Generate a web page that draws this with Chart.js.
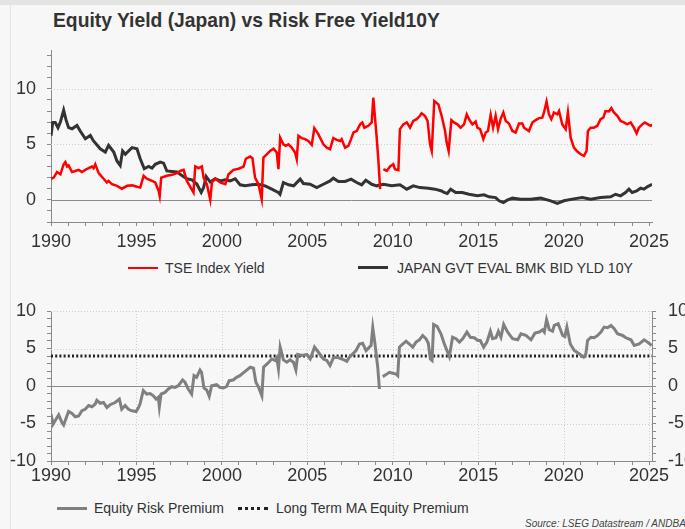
<!DOCTYPE html>
<html>
<head>
<meta charset="utf-8">
<script src="https://cdn.jsdelivr.net/npm/chart.js@4"></script>
<style>
  body { margin: 0; width: 685px; height: 529px; overflow: hidden; background: #f7f7f7; position: relative;
         font-family: "Liberation Sans", Arial, sans-serif; color: #333; }
  .strip { position: absolute; left: 0; top: 0; width: 685px; height: 5px; background: #e4e4e2; }
  .edge { position: absolute; left: 10px; top: 5px; width: 1px; height: 524px; background: #e3e3e3; }
  .title { position: absolute; left: 53px; top: 11px; font-size: 19.3px; line-height: 19px; font-weight: bold; color: #333; }
  canvas { position: absolute; left: 0; }
  .leg { position: absolute; font-size: 14px; line-height: 14px; color: #333; white-space: nowrap; }
  .swatch { position: absolute; width: 30px; height: 0; }
  .source { position: absolute; left: 525px; top: 518px; font-size: 10px; font-style: italic; color: #444; white-space: nowrap; }
</style>
</head>
<body>
<div class="strip"></div>
<div class="edge"></div>
<div class="title">Equity Yield (Japan) vs Risk Free Yield10Y</div>
<canvas id="top-chart" width="685" height="260" style="top:0"></canvas>
<canvas id="bottom-chart" width="685" height="211" style="top:280px"></canvas>

<div class="swatch" style="left:128px; top:267px; border-top:2.5px solid #ff0000"></div>
<div class="leg" style="left:165px; top:261px">TSE Index Yield</div>
<div class="swatch" style="left:358px; top:266px; border-top:3px solid #333"></div>
<div class="leg" style="left:397px; top:261px">JAPAN GVT EVAL BMK BID YLD 10Y</div>

<div class="swatch" style="left:57px; top:507px; border-top:3px solid #808080"></div>
<div class="leg" style="left:94px; top:501px">Equity Risk Premium</div>
<div class="swatch" style="left:238px; top:507px; border-top:3px dotted #222"></div>
<div class="leg" style="left:276px; top:501px">Long Term MA Equity Premium</div>

<div class="source">Source: LSEG Datastream / ANDBANK</div>

<script>
// TSE index dividend yield (red), null = gap in the series
const tseYears = [1990.00,1990.16,1990.35,1990.55,1990.74,1990.84,1990.94,1991.03,1991.23,1991.42,1991.62,1991.81,
  1992.01,1992.20,1992.40,1992.49,1992.59,1992.79,1993.08,1993.27,1993.37,1993.57,1993.86,1994.15,1994.45,1994.74,
  1995.03,1995.22,1995.42,1995.61,1995.91,1996.10,1996.30,1996.36,1996.45,1996.78,1997.08,1997.37,1997.56,1997.76,
  1997.95,1998.15,1998.34,1998.44,1998.64,1998.83,1998.93,1999.12,1999.32,1999.42,1999.61,1999.90,2000.20,2000.39,
  2000.68,2000.98,2001.27,2001.40,2001.65,2001.79,2001.94,2002.14,2002.33,2002.43,2002.63,2002.82,2003.02,2003.21,
  2003.31,2003.41,2003.60,2003.74,2003.89,2004.09,2004.28,2004.38,2004.48,2004.67,2004.87,2005.06,2005.26,2005.41,
  2005.65,2005.94,2006.14,2006.33,2006.52,2006.72,2006.92,2007.01,2007.21,2007.40,2007.56,2007.70,2007.89,2008.09,
  2008.22,2008.34,2008.57,2008.77,2008.86,2009.06,2009.16,2009.26,2009.36,2009.45,2009.65,2009.84,2010.03,2010.13,
  2010.33,2010.42,2010.62,2010.82,2011.01,2011.20,2011.40,2011.59,2011.69,2011.88,2012.04,2012.18,2012.28,2012.43,
  2012.67,2012.86,2013.06,2013.15,2013.27,2013.43,2013.58,2013.78,2013.97,2014.17,2014.33,2014.46,2014.66,2014.85,
  2014.95,2015.11,2015.30,2015.44,2015.57,2015.73,2015.87,2016.02,2016.16,2016.31,2016.47,2016.61,2016.80,2017.00,
  2017.19,2017.39,2017.58,2017.68,2017.97,2018.17,2018.36,2018.56,2018.75,2018.85,2019.00,2019.14,2019.28,2019.43,
  2019.63,2019.73,2019.92,2020.12,2020.25,2020.41,2020.60,2020.80,2021.00,2021.19,2021.34,2021.42,2021.58,2021.77,
  2021.97,2022.16,2022.32,2022.45,2022.65,2022.79,2022.94,2023.14,2023.33,2023.53,2023.72,2023.92,2024.11,2024.27,
  2024.40,2024.60,2024.75,2024.93,2025.09,2025.18];
const tseYield = [1.9,2.0,2.5,2.3,3.2,3.4,3.0,3.1,2.5,2.6,2.7,2.5,
  2.7,2.85,3.0,2.85,3.2,2.4,1.9,1.56,1.7,1.4,1.26,1.0,1.26,1.3,
  1.17,1.1,2.16,1.9,1.7,1.56,0.8,0.36,2.0,2.16,2.25,2.4,2.6,2.7,
  1.7,1.17,0.66,3.0,2.85,3.0,2.0,1.4,0.0,1.56,1.9,1.56,1.4,2.3,
  2.7,2.8,3.0,3.7,3.9,3.75,2.0,1.4,0.06,3.8,4.1,4.4,4.6,4.26,
  2.76,5.6,5.0,4.86,5.0,4.7,4.26,3.66,5.77,5.56,5.47,5.3,4.95,6.46,
  5.9,5.0,4.7,4.56,5.56,5.4,5.3,5.47,4.7,4.86,5.47,6.07,6.2,6.8,
  6.97,6.5,6.67,6.97,9.2,5.6,3.5,0.96,null,2.76,2.6,3.0,3.2,2.76,
  2.67,6.37,6.8,6.97,6.5,7.1,7.27,7.57,7.8,7.57,7.1,5.0,4.4,8.9,
  8.6,7.57,6.2,5.2,4.4,7.18,6.97,6.8,6.5,6.8,7.7,7.27,6.8,7.06,
  6.5,6.37,5.47,6.07,6.2,7.66,6.5,7.57,6.37,7.27,7.87,7.1,6.88,6.2,
  6.07,6.88,6.88,6.5,6.2,6.97,7.18,7.36,7.4,7.87,8.86,7.7,7.27,7.87,
  7.7,8.0,6.8,6.37,7.87,5.6,4.7,4.35,4.1,3.96,4.4,6.2,6.5,6.5,
  6.67,7.27,7.4,8.0,7.96,8.26,7.87,7.57,7.1,6.97,6.8,6.97,6.5,5.98,
  6.5,6.8,6.97,6.8,6.67,6.8];

// 10Y JGB yield (dark grey)
const jgbYears = [1990.00,1990.10,1990.25,1990.41,1990.55,1990.74,1990.88,1991.03,1991.23,1991.52,1991.71,1992.01,
  1992.30,1992.49,1992.88,1993.18,1993.37,1993.67,1993.86,1994.05,1994.19,1994.35,1994.54,1994.74,1995.03,1995.22,
  1995.46,1995.71,1995.91,1996.10,1996.39,1996.59,1996.78,1997.08,1997.37,1997.66,1997.95,1998.25,1998.54,1998.79,
  1998.93,1999.08,1999.32,1999.61,1999.90,2000.20,2000.49,2000.78,2001.07,2001.36,2001.75,2002.14,2002.53,2002.92,
  2003.30,2003.40,2003.60,2003.90,2004.20,2004.58,2004.77,2005.16,2005.55,2005.94,2006.33,2006.52,2006.82,2007.21,
  2007.56,2007.89,2008.18,2008.42,2008.77,2009.06,2009.45,2009.94,2010.42,2010.82,2011.20,2011.59,2012.08,2012.47,
  2012.86,2013.00,2013.19,2013.39,2013.68,2014.07,2014.46,2014.95,2015.34,2015.63,2016.02,2016.22,2016.47,2016.70,
  2017.00,2017.48,2018.07,2018.65,2019.24,2019.63,2020.02,2020.50,2021.09,2021.58,2022.16,2022.75,2023.04,2023.33,
  2023.62,2023.82,2024.01,2024.27,2024.50,2024.70,2024.89,2025.18];
const jgbYield = [5.77,6.97,6.97,6.5,7.0,8.08,7.2,6.5,6.4,6.7,6.2,5.5,
  5.8,5.3,4.6,4.3,4.9,4.3,3.5,3.1,4.4,4.1,4.4,4.7,4.6,3.7,
  2.8,3.0,2.85,3.2,3.4,3.3,2.6,2.55,2.5,2.2,1.9,1.8,1.4,0.66,
  1.1,2.1,1.6,1.9,1.7,1.8,1.7,1.9,1.35,1.26,1.35,1.4,1.26,0.96,
  0.66,0.5,1.56,1.35,1.26,1.86,1.47,1.4,1.1,1.4,1.7,1.95,1.65,1.65,
  1.86,1.56,1.35,1.77,1.4,1.26,1.4,1.26,1.35,0.96,1.26,1.1,1.05,0.96,
  0.8,0.66,0.57,0.96,0.66,0.66,0.5,0.36,0.45,0.27,0.2,-0.09,-0.24,-0.03,
  0.15,0.06,0.06,0.15,-0.09,-0.33,-0.09,0.06,0.2,0.06,0.2,0.27,0.5,0.36,
  0.66,0.96,0.66,0.8,1.05,0.96,1.17,1.4];

// Equity risk premium (grey), null = gap
const erpYears = [1990.00,1990.12,1990.25,1990.45,1990.64,1990.74,1990.93,1991.03,1991.23,1991.42,1991.62,1991.81,
  1992.00,1992.20,1992.40,1992.59,1992.68,1992.88,1993.07,1993.27,1993.46,1993.75,1994.00,1994.14,1994.34,1994.53,
  1994.73,1994.98,1995.12,1995.21,1995.40,1995.60,1995.80,1995.99,1996.15,1996.28,1996.34,1996.44,1996.67,1996.87,
  1997.06,1997.26,1997.45,1997.70,1997.84,1998.03,1998.23,1998.37,1998.52,1998.72,1998.81,1998.95,1999.11,1999.26,
  1999.40,1999.69,1999.88,2000.08,2000.27,2000.43,2000.66,2000.86,2001.05,2001.36,2001.66,2001.85,2001.99,2002.15,
  2002.34,2002.44,2002.69,2002.92,2003.12,2003.21,2003.31,2003.41,2003.60,2003.80,2003.99,2004.19,2004.33,2004.44,
  2004.68,2004.97,2005.17,2005.42,2005.65,2005.94,2006.14,2006.33,2006.52,2006.72,2007.02,2007.31,2007.46,2007.66,
  2007.85,2008.05,2008.24,2008.44,2008.63,2008.73,2008.83,2008.96,2009.12,2009.22,2009.30,2009.41,2009.61,2009.80,
  2010.00,2010.19,2010.29,2010.39,2010.58,2010.78,2010.97,2011.17,2011.36,2011.56,2011.75,2011.95,2012.08,2012.20,
  2012.30,2012.39,2012.59,2012.82,2013.02,2013.31,2013.50,2013.70,2013.90,2014.09,2014.34,2014.54,2014.77,2014.97,
  2015.12,2015.32,2015.51,2015.71,2015.84,2016.04,2016.18,2016.33,2016.49,2016.72,2017.01,2017.31,2017.50,2017.79,
  2018.09,2018.32,2018.57,2018.77,2018.87,2019.00,2019.16,2019.35,2019.45,2019.68,2019.94,2020.07,2020.19,2020.39,
  2020.62,2020.91,2021.17,2021.30,2021.40,2021.60,2021.79,2021.99,2022.18,2022.37,2022.57,2022.77,2022.96,2023.15,
  2023.45,2023.64,2023.94,2024.13,2024.42,2024.71,2024.91,2025.07,2025.15];
const erpValues = [-3.75,-5.1,-4.6,-3.84,-4.87,-5.2,-4.0,-3.4,-3.66,-4.1,-4.0,-3.3,
  -3.1,-2.6,-2.77,-2.4,-1.9,-2.3,-2.2,-2.86,-2.5,-2.2,-1.74,-3.1,-2.6,-3.1,
  -3.3,-3.4,-2.86,-2.4,-0.6,-1.07,-1.0,-1.3,-1.74,-1.5,-2.77,-1.07,-0.85,-0.4,
  -0.09,-0.18,0.04,0.8,0.5,-0.4,-1.07,1.38,1.16,2.14,1.83,-0.27,-0.54,-1.38,
  0.04,0.18,-0.18,-0.27,-0.09,0.71,0.8,1.16,1.38,1.96,2.5,2.37,0.5,-0.18,
  -1.3,2.5,3.04,3.6,3.4,3.75,2.28,5.18,3.48,3.17,3.48,3.17,2.14,4.2,
  4.06,4.2,3.6,5.18,4.5,3.6,3.4,2.72,3.75,3.84,3.6,3.3,3.84,4.29,
  4.73,5.6,5.7,4.73,5.18,5.4,7.77,5.6,2.5,-0.4,null,1.25,1.52,1.83,
  1.7,1.6,1.38,5.18,5.6,5.98,5.6,5.18,5.85,6.16,6.74,6.29,5.7,3.6,
  3.39,8.2,7.95,6.96,5.6,3.93,6.5,6.3,5.85,6.3,7.19,6.5,6.43,6.07,
  6.07,5.18,5.85,7.3,6.3,6.43,7.3,6.5,8.2,7.19,6.3,6.16,6.96,6.74,
  6.16,7.05,7.19,7.5,7.19,8.84,7.5,7.3,8.08,8.3,6.74,6.6,7.86,5.6,
  4.73,4.29,3.84,4.29,6.07,6.5,6.43,6.74,7.19,7.86,7.77,8.08,7.63,6.96,
  6.74,6.43,6.16,5.4,5.6,6.16,5.85,5.54,5.4];

// long term average of the premium (dotted)
const maYears = [1990, 2025.17];
const maValues = [4.0, 4.0];

Chart.defaults.font.family = '"Liberation Sans", Arial, sans-serif';
Chart.defaults.color = '#333';

function pairs(xs, ys) {
  return xs.map((x, i) => ({ x: x, y: ys[i] }));
}
function range(a, b) {
  const out = [];
  for (let v = a; v <= b; v++) out.push({ value: v });
  return out;
}

// dotted reference grid + solid zero line, drawn under the series
const refLines = {
  id: 'refLines',
  beforeDatasetsDraw(chart, args, opts) {
    const ctx = chart.ctx, a = chart.chartArea;
    const xs = chart.scales.x, ys = chart.scales.y;
    ctx.save();
    ctx.lineWidth = 1;
    ctx.strokeStyle = '#cdcdcd';
    ctx.setLineDash([1, 2]);
    (opts.h || []).forEach(v => {
      const p = Math.round(ys.getPixelForValue(v)) + 0.5;
      ctx.beginPath(); ctx.moveTo(a.left, p); ctx.lineTo(a.right, p); ctx.stroke();
    });
    (opts.v || []).forEach(v => {
      const p = Math.round(xs.getPixelForValue(v)) + 0.5;
      ctx.beginPath(); ctx.moveTo(p, a.top); ctx.lineTo(p, a.bottom); ctx.stroke();
    });
    ctx.setLineDash([]);
    ctx.strokeStyle = '#8a8a8a';
    const z = Math.round(ys.getPixelForValue(0)) + 0.5;
    ctx.beginPath(); ctx.moveTo(a.left, z); ctx.lineTo(a.right, z); ctx.stroke();
    ctx.restore();
  }
};

const xAxis = (h, pad) => ({
  type: 'linear', min: 1990, max: 2025.17,
  afterFit: s => { s.height = h; },
  afterBuildTicks: s => { s.ticks = range(1990, 2025); },
  ticks: { callback: v => v % 5 === 0 ? String(v) : '', autoSkip: false, maxRotation: 0,
           font: { size: 18 }, color: '#333', padding: pad },
  grid: { drawOnChartArea: false, tickLength: 4, tickColor: '#8a8a8a' },
  border: { color: '#8a8a8a' }
});

const yAxis = (min, max, lo, hi, pos, w, pad) => ({
  position: pos, min: min, max: max,
  afterFit: s => { s.width = w; },
  afterBuildTicks: s => { s.ticks = range(lo, hi); },
  ticks: { callback: v => v % 5 === 0 ? String(v) : '', autoSkip: false,
           font: { size: 18 }, color: '#333', padding: pad },
  grid: { drawOnChartArea: false, tickLength: 4, tickColor: '#8a8a8a' },
  border: { color: '#8a8a8a' }
});

new Chart(document.getElementById('top-chart'), {
  type: 'line',
  data: {
    datasets: [
      { label: 'TSE Index Yield', data: pairs(tseYears, tseYield), borderColor: '#ff0000',
        borderWidth: 2.5, pointRadius: 0, spanGaps: false },
      { label: 'JAPAN GVT EVAL BMK BID YLD 10Y', data: pairs(jgbYears, jgbYield), borderColor: '#333333',
        borderWidth: 3, pointRadius: 0 }
    ]
  },
  options: {
    responsive: false, animation: false,
    layout: { padding: { top: 50, right: 33, left: 0, bottom: 0 } },
    plugins: { legend: { display: false }, tooltip: { enabled: false },
               refLines: { h: [5, 10], v: [] } },
    scales: {
      x: xAxis(38, 5),
      y: yAxis(-2, 13.5, -2, 13, 'left', 51, 11)
    }
  },
  plugins: [refLines]
});

new Chart(document.getElementById('bottom-chart'), {
  type: 'line',
  data: {
    datasets: [
      { label: 'Equity Risk Premium', data: pairs(erpYears, erpValues), borderColor: '#808080',
        borderWidth: 3, pointRadius: 0, spanGaps: false },
      { label: 'Long Term MA Equity Premium', data: pairs(maYears, maValues), borderColor: '#222222',
        borderWidth: 3, borderDash: [2, 2.2], pointRadius: 0 }
    ]
  },
  options: {
    responsive: false, animation: false,
    layout: { padding: { top: 31, right: 0, left: 0, bottom: 0 } },
    plugins: { legend: { display: false }, tooltip: { enabled: false },
               refLines: { h: [-5, 5, 10], v: [1995, 2000, 2005, 2010, 2015, 2020, 2025] } },
    scales: {
      x: xAxis(30, 0),
      y: yAxis(-10, 10, -10, 10, 'left', 51, 11),
      y2: yAxis(-10, 10, -10, 10, 'right', 33, 12)
    }
  },
  plugins: [refLines]
});
</script>
</body>
</html>
